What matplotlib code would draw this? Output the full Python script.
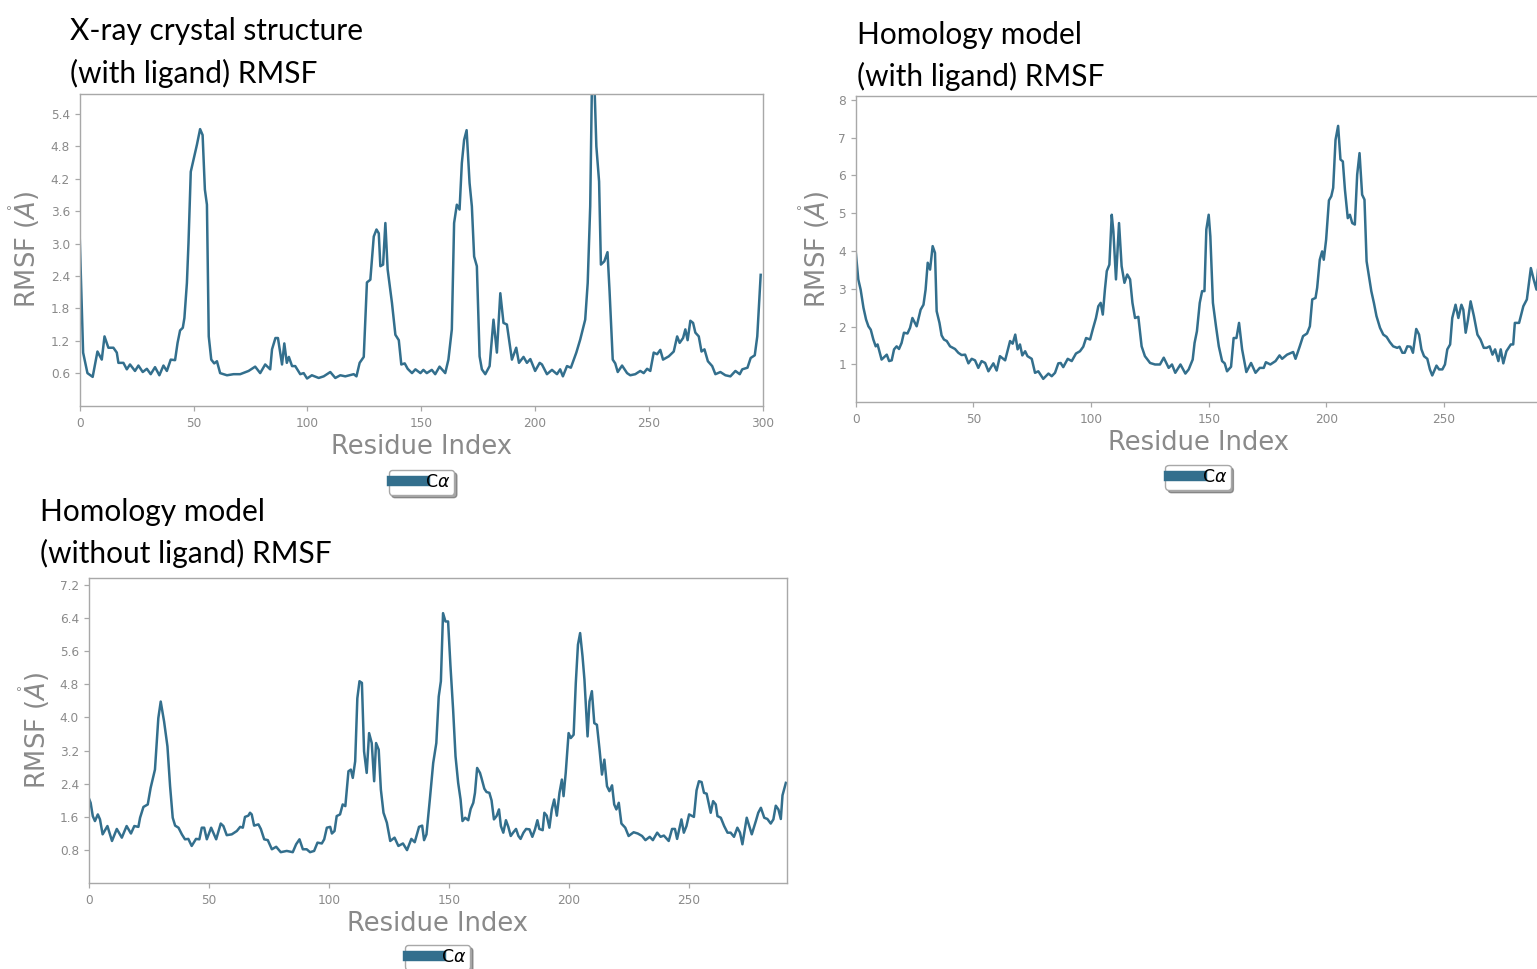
import matplotlib
matplotlib.use("Agg")
import matplotlib.pyplot as plt
from matplotlib.ticker import FixedLocator

# ---- data (residue index, RMSF in Angstrom) ----
xray_res = [0, 1.5, 3.4, 5.7, 7.8, 9.7, 10.9, 12.6, 14.8, 16.3,
            17, 19.2, 20.7, 22.1, 24.3, 25.8, 27.7, 29.5, 31.2, 33.1,
            35, 36.8, 38.3, 40, 41.9, 43, 44.1, 45.3, 46, 47.1,
            47.8, 48.8, 50, 51.5, 52.9, 54, 55, 55.9, 56.7, 57.8,
            59.1, 60.3, 61.7, 64.7, 67.6, 70.5, 74.2, 77.1, 79.3, 81.5,
            83.7, 84.5, 86, 87.1, 88.9, 89.9, 91, 91.9, 93.3, 94.7,
            96.9, 98.4, 99.9, 102, 105, 107.2, 110.1, 112.3, 114.5, 116.7,
            120.4, 121.6, 123, 124.8, 126.2, 127.7, 129.2, 130.4, 131.4, 132.1,
            133.3, 134.3, 135.3, 137.2, 138.7, 140.2, 141.3, 142.8, 144.1, 146,
            147.5, 149.7, 151, 152.5, 154.7, 156.2, 158.1, 160.6, 162, 163.5,
            164.5, 165.7, 166.9, 167.9, 168.9, 170, 171.3, 172.3, 173.3, 174.5,
            175.7, 176.7, 178.2, 180.1, 181.8, 183.3, 184.8, 186.2, 187.7, 189.9,
            191.8, 193, 195, 196.5, 198, 200.1, 202.1, 203.1, 205.3, 207.5,
            209.7, 211.1, 212.3, 214.1, 215.8, 218.2, 219.9, 222.1, 223.2, 224.3,
            225.2, 226.2, 227, 228.2, 229, 230.5, 231.9, 232.8, 234.2, 235.3,
            236.4, 238.3, 240.5, 241.9, 244.1, 246.3, 247.8, 249.3, 250.7, 252.2,
            253.7, 255.1, 256.3, 258.8, 261, 262.5, 263.6, 265.1, 266.1, 267.1,
            268.3, 269.5, 270.5, 272, 273.2, 274.5, 276, 277.9, 279.3, 281.5,
            283.7, 285.9, 288.1, 290, 291.1, 293.4, 294.8, 296.6, 297.7, 299.2]
xray_rmsf = [3.13, 0.98, 0.6, 0.53, 1.0, 0.85, 1.28, 1.07, 1.07, 0.98,
             0.79, 0.79, 0.67, 0.76, 0.64, 0.74, 0.62, 0.68, 0.58, 0.71,
             0.56, 0.74, 0.64, 0.85, 0.84, 1.16, 1.39, 1.44, 1.62, 2.27,
             3.01, 4.33, 4.55, 4.83, 5.12, 5.01, 4.0, 3.72, 1.28, 0.85,
             0.78, 0.82, 0.6, 0.56, 0.58, 0.58, 0.64, 0.72, 0.6, 0.76,
             0.67, 1.04, 1.25, 1.25, 0.76, 1.15, 0.79, 0.9, 0.73, 0.73,
             0.58, 0.6, 0.5, 0.56, 0.51, 0.54, 0.62, 0.51, 0.56, 0.54,
             0.58, 0.54, 0.79, 0.9, 2.28, 2.33, 3.13, 3.26, 3.19, 2.58,
             2.61, 3.38, 2.52, 1.9, 1.31, 1.21, 0.76, 0.78, 0.68, 0.6,
             0.67, 0.6, 0.66, 0.6, 0.66, 0.58, 0.72, 0.6, 0.85, 1.41,
             3.38, 3.72, 3.63, 4.49, 4.92, 5.1, 4.12, 3.69, 2.76, 2.58,
             0.91, 0.67, 0.58, 0.73, 1.59, 0.98, 2.08, 1.53, 1.5, 0.85,
             1.07, 0.79, 0.9, 0.79, 0.86, 0.64, 0.79, 0.76, 0.58, 0.66,
             0.58, 0.67, 0.54, 0.73, 0.7, 0.98, 1.22, 1.59, 2.27, 3.69,
             6.4, 5.9, 4.8, 4.15, 2.61, 2.67, 2.84, 2.12, 0.85, 0.78,
             0.62, 0.74, 0.6, 0.56, 0.58, 0.64, 0.6, 0.68, 0.64, 0.98,
             0.95, 1.03, 0.85, 0.91, 1.0, 1.28, 1.16, 1.25, 1.41, 1.21,
             1.57, 1.53, 1.35, 1.28, 1.0, 1.04, 0.82, 0.73, 0.58, 0.62,
             0.56, 0.54, 0.64, 0.58, 0.67, 0.7, 0.88, 0.93, 1.28, 2.42]

holo_lig_res = [0, 1.1, 2.1, 3.3, 4.4, 5.4, 6.4, 7.5, 8.5, 9.3,
                11, 13.2, 14.2, 15.3, 16.3, 17.4, 18.4, 19.5, 20.5, 22,
                23.1, 24.1, 25.9, 27.6, 28.8, 29.7, 30.6, 31.6, 32.7, 33.7,
                34.4, 35.6, 36.5, 37.5, 38.7, 40.1, 42.2, 43.6, 45, 46.5,
                47.9, 49.3, 50.7, 52.1, 53.5, 55, 56.4, 58.5, 59.9, 61.3,
                63.5, 65.6, 66.7, 67.8, 68.8, 69.8, 70.8, 72, 73, 74.8,
                76.2, 77.6, 79.7, 81.9, 83.3, 84.7, 86.1, 87.1, 88.2, 90.1,
                91.8, 93.6, 95.3, 96.7, 97.9, 99.6, 100.7, 102.1, 103.1, 104.1,
                105, 105.9, 106.7, 107.8, 108.8, 109.5, 110.6, 111.9, 113, 114.2,
                115.4, 116.6, 117.6, 118.7, 120.1, 121.5, 122.9, 125.1, 127.2, 129.3,
                130.9, 133, 134.4, 135.8, 138, 140.1, 141.5, 143.2, 144, 145,
                146.2, 147.2, 148.2, 149, 150, 150.7, 151.8, 153.1, 154.3, 155.7,
                156.8, 157.8, 159.5, 160.6, 161.8, 162.9, 164.2, 166, 168, 169.9,
                171.7, 173.4, 174.3, 176.2, 178.4, 180.1, 181.2, 183.3, 185.9, 186.9,
                188.7, 190.1, 191.8, 193, 194, 195.4, 196.1, 197.2, 198.2, 198.9,
                199.9, 201.1, 202.1, 202.9, 203.9, 205, 206, 207, 207.9, 209.1,
                210, 211, 212.1, 213.1, 214.1, 215.2, 216.2, 217.1, 218.1, 219.1,
                220.2, 221.3, 222.8, 224.2, 225.6, 227, 228.4, 230.1, 231.1, 232.3,
                233.3, 234.4, 235.8, 236.8, 238.2, 239.4, 240.4, 241.5, 242.9, 244,
                245, 246.8, 247.9, 249.3, 250.4, 251.4, 252.6, 253.5, 254.9, 256.1,
                257.4, 258.2, 259.2, 260.2, 261.3, 262.7, 264.2, 265.5, 266.9, 268.1,
                269.4, 270.6, 271.7, 273.1, 274.1, 275.2, 276.5, 278.4, 279.4, 280.1,
                281.9, 283.7, 285.2, 286.9, 288.1, 289.3, 290.3]
holo_lig_rmsf = [3.99, 3.25, 2.98, 2.5, 2.19, 2.01, 1.92, 1.66, 1.48, 1.53,
                 1.13, 1.26, 1.09, 1.11, 1.4, 1.48, 1.41, 1.57, 1.84, 1.82,
                 1.97, 2.23, 2.01, 2.45, 2.58, 2.98, 3.69, 3.51, 4.13, 3.95,
                 2.41, 2.1, 1.77, 1.66, 1.62, 1.48, 1.41, 1.31, 1.25, 1.26,
                 1.03, 1.15, 1.11, 0.91, 1.09, 1.04, 0.82, 1.03, 0.84, 1.22,
                 1.11, 1.62, 1.55, 1.79, 1.4, 1.53, 1.24, 1.35, 1.22, 1.15,
                 0.78, 0.82, 0.62, 0.76, 0.69, 0.78, 1.03, 1.04, 0.93, 1.15,
                 1.09, 1.29, 1.35, 1.47, 1.7, 1.66, 1.92, 2.23, 2.54, 2.63,
                 2.32, 2.98, 3.47, 3.64, 4.96, 4.52, 3.25, 4.74, 3.6, 3.16,
                 3.38, 3.25, 2.63, 2.23, 2.26, 1.48, 1.22, 1.04, 1.0, 1.0,
                 1.18, 0.91, 1.0, 0.78, 1.0, 0.76, 0.87, 1.13, 1.57, 1.88,
                 2.63, 2.94, 2.94, 4.57, 4.96, 4.39, 2.63, 2.01, 1.48, 1.09,
                 1.03, 0.82, 0.94, 1.7, 1.7, 2.1, 1.4, 0.8, 1.04, 0.78,
                 0.91, 0.91, 1.06, 1.0, 1.09, 1.24, 1.15, 1.26, 1.33, 1.15,
                 1.48, 1.75, 1.82, 2.01, 2.72, 2.76, 3.03, 3.77, 3.99, 3.77,
                 4.3, 5.34, 5.45, 5.67, 6.94, 7.31, 6.42, 6.37, 5.62, 4.87,
                 4.96, 4.74, 4.7, 6.02, 6.59, 5.49, 5.36, 3.73, 3.33, 2.94,
                 2.63, 2.28, 1.97, 1.79, 1.73, 1.59, 1.48, 1.44, 1.47, 1.31,
                 1.31, 1.48, 1.47, 1.31, 1.94, 1.79, 1.4, 1.22, 1.15, 0.87,
                 0.71, 0.97, 0.87, 0.87, 1.0, 1.4, 1.53, 2.23, 2.58, 2.23,
                 2.58, 2.45, 1.84, 2.19, 2.67, 2.28, 1.79, 1.66, 1.44, 1.44,
                 1.48, 1.26, 1.4, 1.09, 1.4, 1.03, 1.35, 1.53, 1.53, 2.1,
                 2.1, 2.54, 2.72, 3.55, 3.25, 2.98, 3.8]

holo_apo_res = [0, 0.8, 1.7, 2.6, 3.8, 4.7, 5.8, 7.8, 9.7, 11.7,
                13.8, 15.8, 17.6, 19, 20.7, 21.4, 22.8, 24.6, 25.8, 27.6,
                29, 30, 31.4, 32.8, 33.9, 35, 36, 37.4, 38.8, 40.1,
                41.5, 42.9, 44.7, 46.1, 47.1, 48.1, 49.2, 51, 53.1, 55,
                56.1, 57.5, 59.6, 61.7, 63.1, 64.2, 65.1, 66.5, 67.2, 67.9,
                68.9, 70.7, 71.7, 73.1, 74.6, 76.3, 78.1, 80, 82.5, 85,
                86.4, 87.8, 89.2, 90.8, 92.2, 93.9, 95.3, 97.1, 98.1, 99.2,
                100.6, 101.3, 102.4, 103.3, 104.7, 105.8, 106.9, 108.2, 109.2, 110,
                111, 111.9, 112.8, 113.8, 114.7, 115.8, 116.8, 117.9, 118.9, 119.7,
                120.8, 121.7, 122.8, 124.2, 125.6, 127.4, 129, 130.9, 132.6, 134.4,
                135.8, 137.6, 138.9, 139.7, 140.7, 142.1, 143.5, 144.8, 145.8, 146.7,
                147.6, 148.6, 149.7, 150.7, 151.8, 152.8, 153.9, 154.9, 155.7, 156.8,
                158.1, 159.1, 160.2, 160.9, 161.8, 163, 163.6, 164.8, 165.7, 166.9,
                167.8, 168.8, 169.9, 170.9, 171.7, 172.7, 173.8, 174.8, 175.8, 176.9,
                178, 179, 179.9, 181.1, 182.2, 183.6, 184.8, 185.9, 186.9, 187.7,
                189.1, 189.8, 190.8, 191.9, 192.9, 193.9, 195, 196.1, 197.1, 197.8,
                198.7, 199.9, 200.8, 202, 202.9, 203.8, 204.7, 205.7, 206.5, 207.8,
                208.6, 209.6, 210.6, 211.7, 212.8, 213.8, 214.8, 215.9, 216.9, 218,
                218.9, 219.8, 220.8, 221.9, 223.5, 224.9, 227, 228.7, 230.5, 231.9,
                233.7, 235, 236.8, 238.2, 239.6, 241.6, 243, 244.2, 245.1, 246.9,
                247.9, 249, 250.1, 252.1, 253.2, 254.2, 255.3, 256.3, 257.4, 259.1,
                260.1, 261.2, 261.9, 263.3, 264.7, 266.1, 267.4, 268.8, 270.2, 271.3,
                272.3, 274.1, 276.2, 277.9, 278.9, 280, 281.4, 282.7, 284.1, 285.2,
                286.2, 287.3, 288.3, 289, 290.4]
holo_apo_rmsf = [2.06, 1.94, 1.62, 1.5, 1.66, 1.54, 1.18, 1.38, 1.02, 1.31,
                 1.1, 1.38, 1.2, 1.38, 1.36, 1.58, 1.84, 1.9, 2.3, 2.74,
                 3.98, 4.38, 3.9, 3.3, 2.34, 1.58, 1.39, 1.34, 1.18, 1.06,
                 1.07, 0.9, 1.07, 1.06, 1.34, 1.34, 1.06, 1.34, 1.06, 1.44,
                 1.38, 1.16, 1.18, 1.26, 1.36, 1.34, 1.6, 1.63, 1.7, 1.66,
                 1.39, 1.42, 1.31, 1.06, 1.04, 0.82, 0.88, 0.75, 0.78, 0.75,
                 0.94, 1.06, 0.82, 0.82, 0.75, 0.78, 0.98, 0.96, 1.06, 1.34,
                 1.36, 1.2, 1.26, 1.62, 1.66, 1.9, 1.86, 2.7, 2.74, 2.54,
                 2.94, 4.46, 4.87, 4.83, 3.18, 2.66, 3.62, 3.38, 2.46, 3.38,
                 3.22, 2.26, 1.7, 1.46, 1.02, 1.1, 0.9, 0.96, 0.8, 1.07,
                 0.99, 1.36, 1.39, 1.04, 1.18, 2.02, 2.9, 3.38, 4.5, 4.87,
                 6.51, 6.31, 6.31, 5.23, 4.18, 3.06, 2.42, 2.02, 1.5, 1.58,
                 1.52, 1.79, 1.94, 2.18, 2.78, 2.66, 2.54, 2.28, 2.2, 2.18,
                 2.0, 1.54, 1.62, 1.78, 1.38, 1.22, 1.52, 1.36, 1.14, 1.23,
                 1.31, 1.14, 1.07, 1.22, 1.31, 1.3, 1.12, 1.3, 1.52, 1.31,
                 1.28, 1.7, 1.63, 1.34, 1.78, 2.02, 1.63, 2.18, 2.5, 2.1,
                 2.66, 3.62, 3.5, 3.58, 4.83, 5.75, 6.03, 5.47, 4.91, 3.54,
                 4.38, 4.63, 3.86, 3.82, 3.22, 2.62, 2.98, 2.34, 2.22, 2.36,
                 1.9, 1.78, 1.94, 1.44, 1.34, 1.14, 1.23, 1.2, 1.14, 1.04,
                 1.12, 1.04, 1.22, 1.12, 1.15, 1.02, 1.31, 1.31, 1.07, 1.54,
                 1.22, 1.38, 1.66, 1.6, 2.24, 2.46, 2.44, 2.18, 2.16, 1.7,
                 1.98, 1.9, 1.62, 1.58, 1.38, 1.22, 1.22, 1.12, 1.34, 1.22,
                 0.94, 1.58, 1.18, 1.5, 1.7, 1.82, 1.58, 1.55, 1.44, 1.54,
                 1.87, 1.78, 1.55, 2.12, 2.42]

titles = [("X-ray crystal structure", "(with ligand) RMSF"),
          ("Homology model", "(with ligand) RMSF"),
          ("Homology model", "(without ligand) RMSF")]
yticks_1 = [0.6, 1.2, 1.8, 2.4, 3.0, 3.6, 4.2, 4.8, 5.4]
yticks_2 = [1, 2, 3, 4, 5, 6, 7, 8]
yticks_3 = [0.8, 1.6, 2.4, 3.2, 4.0, 4.8, 5.6, 6.4, 7.2]
xticks_1 = [0, 50, 100, 150, 200, 250, 300]
xticks_23 = [0, 50, 100, 150, 200, 250]

LINE = "#336f8d"
GREY = "#8a8a8a"
SPINE = "#a8a8a8"

W, H = 1537, 969
fig = plt.figure(figsize=(W / 100, H / 100), dpi=100)


def px_box(left, top, right, bottom):
    return [left / W, 1 - bottom / H, (right - left) / W, (bottom - top) / H]


panels = [
    # axes box in px, xlim, ylim, yticks, xticks, data,
    # title (x, baseline1, baseline2), legend (centre x, top), ylabel offset px
    (px_box(79.7, 94, 762.5, 405.5), (0, 300), (0, 5.77), yticks_1, xticks_1,
     xray_res, xray_rmsf, (70, 40, 83), (421.5, 470), 55),
    (px_box(855.7, 96, 1540.5, 402.3), (0, 291), (0, 8.1), yticks_2, xticks_23,
     holo_lig_res, holo_lig_rmsf, (857, 44, 86), (1198, 465), 41),
    (px_box(88.7, 578.3, 787.3, 883.3), (0, 291), (0, 7.35), yticks_3, xticks_23,
     holo_apo_res, holo_apo_rmsf, (40, 521, 563), (437.5, 945), 54),
]

for i, (rect, xl, yl, yt, xt, xs, ys, tpos, lpos, yoff) in enumerate(panels):
    ax = fig.add_axes(rect)
    line, = ax.plot(xs, ys, color=LINE, lw=1.8, label=r"C$\alpha$")
    ax.set_xlim(*xl)
    ax.set_ylim(*yl)
    ax.yaxis.set_major_locator(FixedLocator(yt))
    ax.xaxis.set_major_locator(FixedLocator(xt))
    ax.set_yticklabels([f"{v:g}" if i == 1 else f"{v:.1f}" for v in yt])
    for s in ax.spines.values():
        s.set_color(SPINE)
        s.set_linewidth(1.0)
    ax.tick_params(direction="out", length=3.5, width=0.9, color=SPINE,
                   labelcolor=GREY, labelsize=8.7, pad=3.5)
    ax.tick_params(axis="x", top=False, pad=4.5)
    ax.tick_params(axis="y", right=False)

    ax_h = rect[3] * H
    ax.set_xlabel("Residue Index", fontsize=18.5, color=GREY, va="center")
    ax.xaxis.set_label_coords(0.5, -41 / ax_h)
    ax.set_ylabel(r"RMSF $(\mathring{A})$", fontsize=18.5, color=GREY, va="center")
    ax.yaxis.set_label_coords(-yoff / (rect[2] * W), 0.5)

    leg = ax.legend(handles=[line], loc="upper center",
                    bbox_to_anchor=(lpos[0] / W, 1 - lpos[1] / H),
                    bbox_transform=fig.transFigure, fontsize=12.5,
                    fancybox=True, shadow=True, handlelength=1.9,
                    handletextpad=0.0, borderpad=0.2, borderaxespad=0)
    leg.get_frame().set_edgecolor(SPINE)
    leg.get_lines()[0].set_linewidth(7.5)

    tx, b1, b2 = tpos
    fig.text(tx / W, 1 - b1 / H, titles[i][0], fontsize=21.5, family="Lato",
             ha="left", va="baseline", color="black")
    fig.text(tx / W, 1 - b2 / H, titles[i][1], fontsize=21.5, family="Lato",
             ha="left", va="baseline", color="black")

fig.savefig("out.png", dpi=100)
